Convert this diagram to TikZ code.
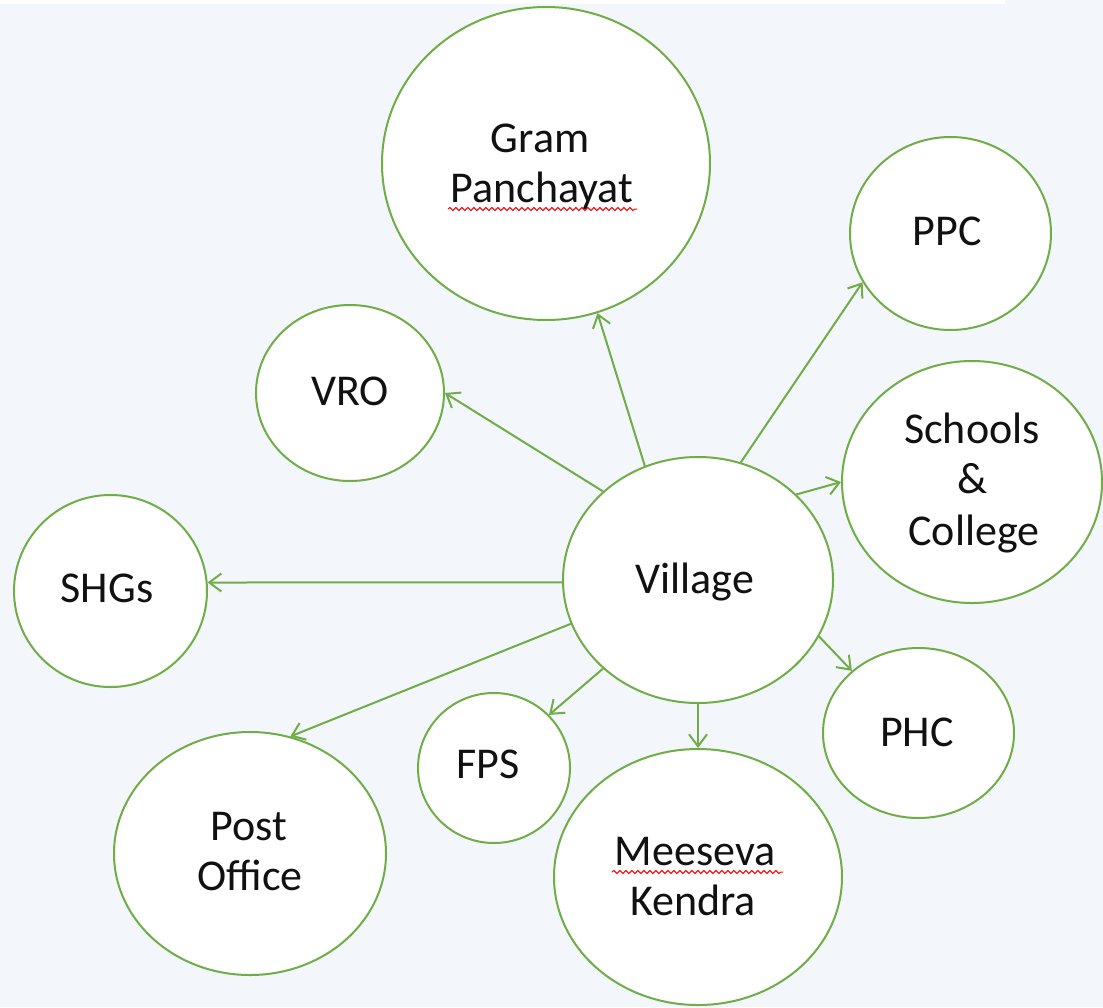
\documentclass[tikz,border=0pt]{standalone}
\usepackage{fontspec}
\setmainfont{Carlito}
\usetikzlibrary{shapes.geometric,arrows.meta,decorations.pathmorphing}
\definecolor{bg}{HTML}{F3F6FB}
\definecolor{gr}{HTML}{70AD47}
\definecolor{txt}{HTML}{111111}
\begin{document}
\begin{tikzpicture}[x=1pt,y=-1pt,
  bubble/.style={ellipse,draw=gr,line width=2pt,fill=white,inner sep=0pt},
  lbl/.style={anchor=base,text=txt,font=\fontsize{44}{50}\selectfont,inner sep=0pt},
  link/.style={draw=gr,line width=2pt,-{Straight Barb[length=12pt,width=18pt]}},
  squig/.style={draw=red,line width=1pt,decorate,decoration={snake,segment length=6pt,amplitude=1.5pt}}]
\fill[bg] (0,0) rectangle (1103,1007);
\fill[white] (0,0) rectangle (1005,4);
\useasboundingbox (0,0) rectangle (1103,1007);

\node[bubble,minimum width=328pt,minimum height=313pt] (gp) at (546,163.5) {};
\node[bubble,minimum width=201pt,minimum height=193pt] (ppc) at (950.5,233.5) {};
\node[bubble,minimum width=188pt,minimum height=176pt] (vro) at (350,393) {};
\node[bubble,minimum width=260pt,minimum height=242pt] (sc) at (972,482) {};
\node[bubble,minimum width=193pt,minimum height=192pt] (shg) at (110.5,591) {};
\node[bubble,minimum width=270pt,minimum height=246pt] (vil) at (698,580) {};
\node[bubble,minimum width=191pt,minimum height=170pt] (phc) at (918.5,733) {};
\node[bubble,minimum width=152pt,minimum height=150pt] (fps) at (494,768) {};
\node[bubble,minimum width=272pt,minimum height=243pt] (po) at (250,853.5) {};
\node[bubble,minimum width=288pt,minimum height=256pt] (mk) at (698,877) {};

\node[lbl] (gpa) at (540,152) {Gram};
\node[lbl] (gpb) at (542,202) {Panchayat};
\node[lbl] (ppct) at (947,245) {PPC};
\node[lbl] (vrot) at (350,405) {VRO};
\node[lbl] (sca) at (972,443) {Schools};
\node[lbl] (scb) at (972,493) {\&};
\node[lbl] (scc) at (974,545) {College};
\node[lbl] (shgt) at (107,602) {SHGs};
\node[lbl] (vilt) at (695,593) {Village};
\node[lbl] (phct) at (917,746) {PHC};
\node[lbl] (fpst) at (488,778) {FPS};
\node[lbl] (poa) at (249,840) {Post};
\node[lbl] (pob) at (250,890) {Office};
\node[lbl] (mka) at (695,865) {Meeseva};
\node[lbl] (mkb) at (693,915) {Kendra};

\draw[squig] (448,209) -- (637,209);
\draw[squig] (612,872) -- (783,872);

\draw[link] (vil.137) -- (vro.east);
\draw[link] (vil.115) -- (gp.289);
\draw[link] (vil.70) -- (ppc.209);
\draw[link] (vil.41) -- (sc.west);
\draw[link] (vil.181) -- (shg.5);
\draw[link] (vil.199) -- (po.71);
\draw[link] (vil.223) -- (fps.44);
\draw[link] (vil.south) -- (mk.north);
\draw[link] (vil.335) -- (phc.137);
\end{tikzpicture}
\end{document}
